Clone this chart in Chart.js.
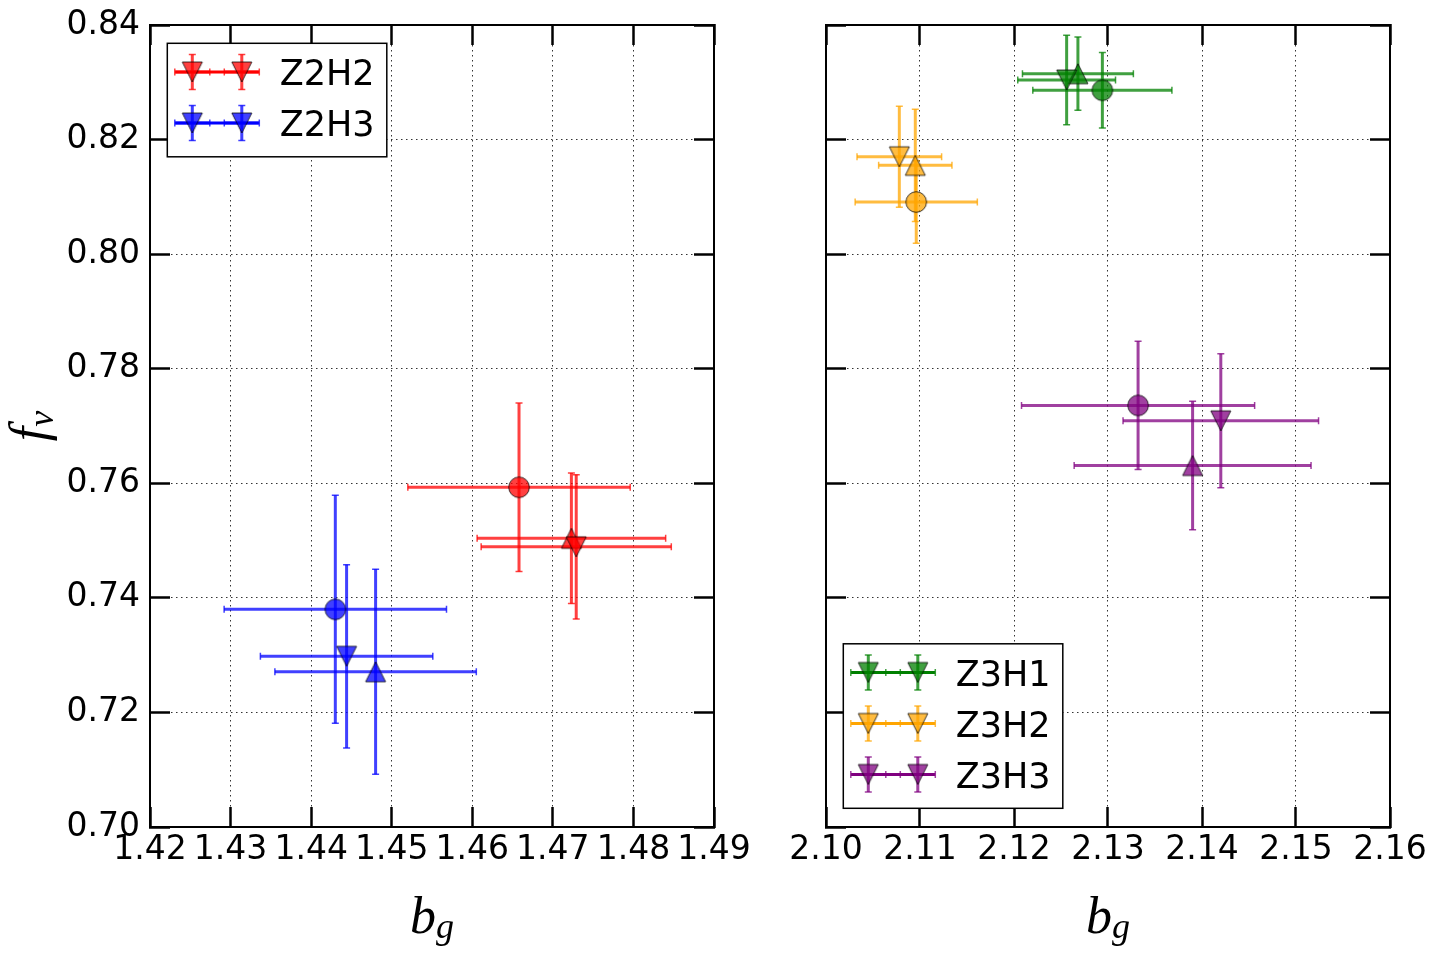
<!DOCTYPE html>
<html>
<head>
<meta charset="utf-8">
<script src="https://cdn.jsdelivr.net/npm/chart.js@4.4.0/dist/chart.umd.min.js"></script>
<style>
  html, body { margin: 0; padding: 0; background: #fff; }
  #wrap { position: relative; width: 1438px; height: 957px; }
  canvas { position: absolute; top: 0; }
</style>
</head>
<body>
<div id="wrap">
  <canvas id="left" width="770" height="957" style="left:0"></canvas>
  <canvas id="right" width="668" height="957" style="left:770px"></canvas>
</div>
<script>
// each group has three points: circle, up-triangle, down-triangle
const shapes = ['circle', 'up', 'down'];

const Z2H2_bg = [1.4658, 1.4723, 1.4729];
const Z2H2_fv = [0.7593, 0.7504, 0.7489];
const Z2H2_bgErr = [0.0138, 0.0117, 0.0118];
const Z2H2_fvErr = [0.0147, 0.0114, 0.0126];

const Z2H3_bg = [1.4430, 1.4480, 1.4444];
const Z2H3_fv = [0.7380, 0.7271, 0.7298];
const Z2H3_bgErr = [0.0138, 0.0125, 0.0107];
const Z2H3_fvErr = [0.0199, 0.0179, 0.0160];

const Z3H1_bg = [2.1294, 2.1268, 2.1256];
const Z3H1_fv = [0.8286, 0.8315, 0.8304];
const Z3H1_bgErr = [0.0074, 0.0059, 0.0052];
const Z3H1_fvErr = [0.0066, 0.0064, 0.0078];

const Z3H2_bg = [2.1096, 2.1095, 2.1078];
const Z3H2_fv = [0.8091, 0.8155, 0.8170];
const Z3H2_bgErr = [0.0065, 0.0039, 0.0045];
const Z3H2_fvErr = [0.0072, 0.0098, 0.0088];

const Z3H3_bg = [2.1332, 2.1390, 2.1420];
const Z3H3_fv = [0.7736, 0.7631, 0.7709];
const Z3H3_bgErr = [0.0124, 0.0126, 0.0104];
const Z3H3_fvErr = [0.0112, 0.0112, 0.0117];

const leftXTicks = [1.42, 1.43, 1.44, 1.45, 1.46, 1.47, 1.48, 1.49];
const rightXTicks = [2.10, 2.11, 2.12, 2.13, 2.14, 2.15, 2.16];
const fvTicks = [0.70, 0.72, 0.74, 0.76, 0.78, 0.80, 0.82, 0.84];

const RED = [255, 0, 0], BLUE = [0, 0, 255], GREEN = [0, 128, 0],
      ORANGE = [255, 165, 0], PURPLE = [128, 0, 128];
const ALPHA = 0.75;

Chart.defaults.font.family = 'DejaVu Sans';
Chart.defaults.color = '#000';

const rgba = (c, a) => `rgba(${c[0]},${c[1]},${c[2]},${a})`;

function marker(shape, col) {
  const c = document.createElement('canvas');
  c.width = 26; c.height = 26;
  const g = c.getContext('2d');
  g.translate(13, 13);
  g.beginPath();
  if (shape === 'circle') g.arc(0, 0, 10.3, 0, Math.PI * 2);
  else if (shape === 'up') { g.moveTo(0, -10); g.lineTo(10, 10); g.lineTo(-10, 10); g.closePath(); }
  else { g.moveTo(0, 10); g.lineTo(10, -10); g.lineTo(-10, -10); g.closePath(); }
  g.fillStyle = rgba(col, ALPHA);
  g.fill();
  g.lineWidth = 1;
  g.strokeStyle = 'rgba(0,0,0,0.75)';
  g.stroke();
  return c;
}

function group(label, col, bg, fv, bgErr, fvErr) {
  const imgs = shapes.map(s => marker(s, col));
  return {
    label,
    col,
    data: bg.map((v, i) => ({ x: v, y: fv[i] })),
    xErr: bgErr,
    yErr: fvErr,
    pointStyle: imgs,
    legendImg: imgs[2],
    pointRadius: 12,
    pointHoverRadius: 12,
    showLine: false
  };
}

// horizontal and vertical error bars with caps
const errorBars = {
  id: 'errorBars',
  beforeDatasetsDraw(chart) {
    const { ctx } = chart;
    const xs = chart.scales.x, ys = chart.scales.y;
    chart.data.datasets.forEach(ds => {
      ctx.save();
      ctx.strokeStyle = rgba(ds.col, ALPHA);
      ds.data.forEach((p, i) => {
        const px = xs.getPixelForValue(p.x), py = ys.getPixelForValue(p.y);
        const x0 = xs.getPixelForValue(p.x - ds.xErr[i]), x1 = xs.getPixelForValue(p.x + ds.xErr[i]);
        const y0 = ys.getPixelForValue(p.y - ds.yErr[i]), y1 = ys.getPixelForValue(p.y + ds.yErr[i]);
        ctx.lineWidth = 3;
        ctx.beginPath(); ctx.moveTo(x0, py); ctx.lineTo(x1, py); ctx.stroke();
        ctx.beginPath(); ctx.moveTo(px, y0); ctx.lineTo(px, y1); ctx.stroke();
        ctx.lineWidth = 1.5;
        ctx.beginPath();
        ctx.moveTo(x0, py - 3.5); ctx.lineTo(x0, py + 3.5);
        ctx.moveTo(x1, py - 3.5); ctx.lineTo(x1, py + 3.5);
        ctx.moveTo(px - 3.5, y0); ctx.lineTo(px + 3.5, y0);
        ctx.moveTo(px - 3.5, y1); ctx.lineTo(px + 3.5, y1);
        ctx.stroke();
      });
      ctx.restore();
    });
  }
};

// matplotlib-like framed legend
const boxLegend = {
  id: 'boxLegend',
  afterDatasetsDraw(chart, args, opts) {
    const { ctx, chartArea: a } = chart;
    const sets = chart.data.datasets;
    const rowH = 51, w = 219.5, h = 11.5 + rowH * sets.length;
    const left = a.left + 17.3;
    const top = opts.corner === 'lower' ? a.bottom - 18.7 - h : a.top + 18.3;
    ctx.save();
    ctx.fillStyle = '#fff';
    ctx.fillRect(left, top, w, h);
    ctx.lineWidth = 1.5;
    ctx.strokeStyle = '#000';
    ctx.strokeRect(left, top, w, h);
    sets.forEach((ds, i) => {
      const cy = top + 28.7 + i * rowH;
      ctx.strokeStyle = rgba(ds.col, 1);
      ctx.lineWidth = 3;
      ctx.beginPath(); ctx.moveTo(left + 8, cy); ctx.lineTo(left + 91.5, cy); ctx.stroke();
      [left + 25, left + 74.5].forEach(mx => {
        ctx.strokeStyle = rgba(ds.col, ALPHA);
        ctx.lineWidth = 3;
        ctx.beginPath();
        ctx.moveTo(mx - 17.5, cy); ctx.lineTo(mx + 17.5, cy);
        ctx.moveTo(mx, cy - 17.5); ctx.lineTo(mx, cy + 17.5);
        ctx.stroke();
        ctx.lineWidth = 1.5;
        ctx.beginPath();
        ctx.moveTo(mx - 17.5, cy - 3.5); ctx.lineTo(mx - 17.5, cy + 3.5);
        ctx.moveTo(mx + 17.5, cy - 3.5); ctx.lineTo(mx + 17.5, cy + 3.5);
        ctx.moveTo(mx - 3.5, cy - 17.5); ctx.lineTo(mx + 3.5, cy - 17.5);
        ctx.moveTo(mx - 3.5, cy + 17.5); ctx.lineTo(mx + 3.5, cy + 17.5);
        ctx.stroke();
        ctx.drawImage(ds.legendImg, mx - 13, cy - 13);
      });
      ctx.fillStyle = '#000';
      ctx.font = '35px "DejaVu Sans"';
      ctx.textBaseline = 'alphabetic';
      ctx.textAlign = 'left';
      ctx.fillText(ds.label, left + 112.5, cy + 13);
    });
    ctx.restore();
  }
};

// italic symbol with subscript, centred on origin, baseline at 0
function drawSub(ctx, main, sub, size, drop) {
  const mainFont = `italic ${size}px "Liberation Serif"`;
  const subFont = `italic ${Math.round(size * 0.7)}px "Liberation Serif"`;
  ctx.font = mainFont;
  const w1 = ctx.measureText(main).width;
  ctx.font = subFont;
  const w2 = ctx.measureText(sub).width;
  const start = -(w1 + w2) / 2;
  ctx.textAlign = 'left';
  ctx.textBaseline = 'alphabetic';
  ctx.font = mainFont;
  ctx.fillText(main, start, 0);
  ctx.font = subFont;
  ctx.fillText(sub, start + w1, drop);
}

const mathLabels = {
  id: 'mathLabels',
  afterDraw(chart, args, opts) {
    const { ctx, chartArea: a } = chart;
    ctx.save();
    ctx.fillStyle = '#000';
    ctx.translate((a.left + a.right) / 2, 933);
    drawSub(ctx, 'b', 'g', 52, 5);
    ctx.restore();
    if (opts.yLabel) {
      ctx.save();
      ctx.fillStyle = '#000';
      ctx.translate(46, (a.top + a.bottom) / 2);
      ctx.rotate(-Math.PI / 2);
      drawSub(ctx, 'f', 'v', 52, 7);
      ctx.restore();
    }
  }
};

// keep tick-label overflow from shrinking the plot area
const noOverflow = s => { s.paddingTop = 0; s.paddingBottom = 0; s.paddingLeft = 0; s.paddingRight = 0; };

function buildScales(xTicks, yTicks, yAxisWidth, showY) {
  const tickGrid = { tickLength: -20, tickWidth: 2.5, tickColor: '#000', tickBorderDash: [] };
  const frame = { color: '#000', width: 2 };
  const gridLook = { color: 'rgba(0,0,0,0.8)', lineWidth: 1 };
  const setX = s => { s.ticks = xTicks.map(v => ({ value: v })); };
  const setY = s => { s.ticks = yTicks.map(v => ({ value: v })); };
  const xMin = xTicks[0], xMax = xTicks[xTicks.length - 1];
  const yMin = yTicks[0], yMax = yTicks[yTicks.length - 1];
  return {
    x: {
      type: 'linear', position: 'bottom', min: xMin, max: xMax,
      afterBuildTicks: setX,
      afterFit: s => { s.height = 130; noOverflow(s); },
      ticks: { font: { size: 33 }, color: '#000', padding: 24, autoSkip: false, maxRotation: 0,
               callback: v => v.toFixed(2) },
      grid: { ...gridLook, ...tickGrid },
      border: { ...frame, dash: [1.5, 3.5] }
    },
    xTop: {
      type: 'linear', position: 'top', min: xMin, max: xMax,
      afterBuildTicks: setX,
      afterFit: s => { s.height = 0; noOverflow(s); },
      ticks: { display: false },
      grid: { drawOnChartArea: false, ...tickGrid },
      border: frame
    },
    y: {
      type: 'linear', position: 'left', min: yMin, max: yMax,
      afterBuildTicks: setY,
      afterFit: s => { s.width = yAxisWidth; noOverflow(s); },
      ticks: { display: showY, font: { size: 33 }, color: '#000', padding: 30, autoSkip: false,
               callback: v => v.toFixed(2) },
      grid: { ...gridLook, ...tickGrid },
      border: { ...frame, dash: [1.5, 3.5] }
    },
    yRight: {
      type: 'linear', position: 'right', min: yMin, max: yMax,
      afterBuildTicks: setY,
      afterFit: s => { s.width = 0; noOverflow(s); },
      ticks: { display: false },
      grid: { drawOnChartArea: false, ...tickGrid },
      border: frame
    }
  };
}

function makeChart(id, groups, xTicks, yAxisWidth, showY, pad, corner) {
  return new Chart(document.getElementById(id), {
    type: 'scatter',
    data: { datasets: groups },
    options: {
      responsive: false,
      animation: false,
      devicePixelRatio: 1,
      layout: { padding: pad },
      scales: buildScales(xTicks, fvTicks, yAxisWidth, showY),
      plugins: {
        legend: { display: false },
        tooltip: { enabled: false },
        boxLegend: { corner },
        mathLabels: { yLabel: showY }
      }
    },
    plugins: [errorBars, boxLegend, mathLabels]
  });
}

makeChart('left', [
  group('Z2H2', RED, Z2H2_bg, Z2H2_fv, Z2H2_bgErr, Z2H2_fvErr),
  group('Z2H3', BLUE, Z2H3_bg, Z2H3_fv, Z2H3_bgErr, Z2H3_fvErr)
], leftXTicks, 150, true, { top: 25, right: 56, bottom: 0, left: 0 }, 'upper');

makeChart('right', [
  group('Z3H1', GREEN, Z3H1_bg, Z3H1_fv, Z3H1_bgErr, Z3H1_fvErr),
  group('Z3H2', ORANGE, Z3H2_bg, Z3H2_fv, Z3H2_bgErr, Z3H2_fvErr),
  group('Z3H3', PURPLE, Z3H3_bg, Z3H3_fv, Z3H3_bgErr, Z3H3_fvErr)
], rightXTicks, 56, false, { top: 25, right: 48, bottom: 0, left: 0 }, 'lower');
</script>
</body>
</html>
